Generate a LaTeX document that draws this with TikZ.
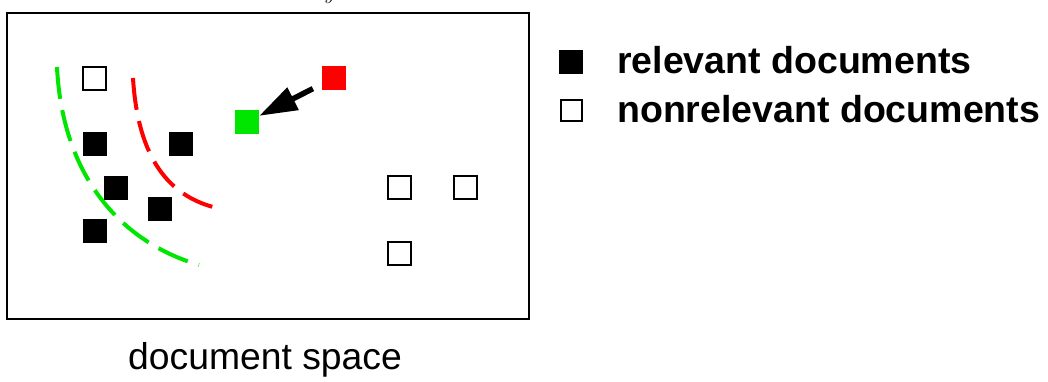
\documentclass[tikz,border=0pt]{standalone}
\usepackage{fontspec}
\setmainfont{Liberation Sans}
\usetikzlibrary{arrows.meta}
\definecolor{qgreen}{RGB}{0,230,0}
\tikzset{
  rel/.style={fill=black, minimum size=24pt, inner sep=0pt},
  nonrel/.style={draw=black, line width=2pt, fill=white, minimum size=23pt, inner sep=0pt},
  query/.style={minimum size=24pt, inner sep=0pt},
  boundary/.style={line width=4pt, dash pattern=on 32pt off 11.5pt},
  legendtext/.style={anchor=base west, inner sep=0pt, font=\fontsize{37.5}{40}\selectfont\bfseries},
}
\begin{document}
\begin{tikzpicture}[x=1pt,y=-1pt]
\useasboundingbox (0,0) rectangle (1048,381);
% clipped caption fragment
\node[anchor=base, inner sep=0pt, font=\fontsize{22}{24}\selectfont] (ytop) at (330,-1) {$y$};
% document space frame
\draw[line width=2pt] (7,13) rectangle (529,319);
% decision boundaries
\draw[boundary, qgreen] (57,67) .. controls (62,170) and (115,240) .. (199,265);
\draw[boundary, red] (133,78) .. controls (138,160) and (170,195) .. (213,207);
% documents
\node[nonrel] (n1) at (94.5,78.5) {};
\node[rel] (r1) at (95,144) {};
\node[rel] (r2) at (181,144) {};
\node[rel] (r3) at (116,188) {};
\node[rel] (r4) at (160,209) {};
\node[rel] (r5) at (95,231) {};
\node[nonrel] (n2) at (399,187.5) {};
\node[nonrel] (n3) at (465,187.5) {};
\node[nonrel] (n4) at (399,253) {};
% queries
\node[query, fill=qgreen] (green) at (247,122) {};
\node[query, fill=red] (red) at (334,78) {};
\draw[line width=5.5pt, shorten <=10pt, -{Triangle[length=38pt,width=24pt]}] (red) -- (green);
% legend
\node[rel] (lrel) at (571,62) {};
\node[nonrel, minimum size=21pt] (lnon) at (571.5,110.5) {};
\node[legendtext] (trel) at (617,73.5) {relevant documents};
\node[legendtext] (tnon) at (617,122) {nonrelevant documents};
% caption
\node[anchor=base, inner sep=0pt, font=\fontsize{37.3}{40}\selectfont] (cap) at (265,369) {document space};
\end{tikzpicture}
\end{document}
